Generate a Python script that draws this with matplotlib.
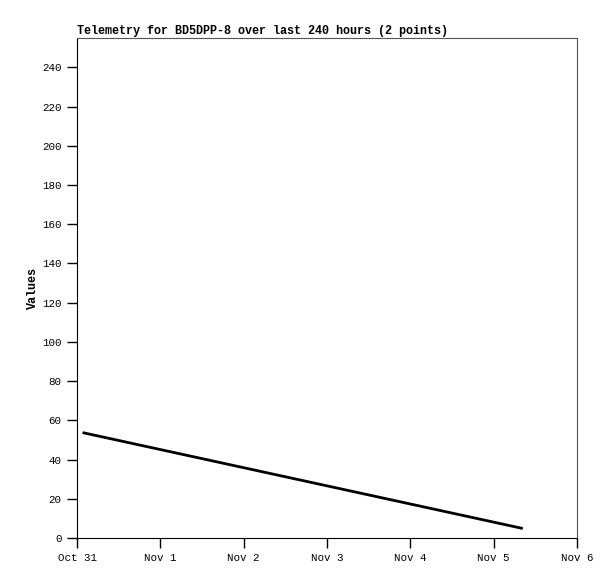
import matplotlib
matplotlib.use("Agg")
import matplotlib.pyplot as plt
import matplotlib.dates as mdates
from datetime import datetime

times = [datetime(2023, 10, 31, 2, 0), datetime(2023, 11, 5, 8, 0)]
values = [53.6, 5.0]
yticks = list(range(0, 241, 20))
title = "Telemetry for BD5DPP-8 over last 240 hours (2 points)"
ylabel = "Values"

plt.rcParams['font.family'] = ['Liberation Mono', 'DejaVu Sans Mono']

fig = plt.figure(figsize=(6.15, 5.79), dpi=100)
ax = fig.add_axes([77/615, (579-538)/579, 500/615, 500/579])
ax.plot(times, values, color='black', linewidth=2)
ax.set_xlim(datetime(2023, 10, 31), datetime(2023, 11, 6))
ax.set_ylim(0, 255)
ax.set_yticks(yticks)
ax.xaxis.set_major_locator(mdates.DayLocator())
ax.xaxis.set_major_formatter(mdates.DateFormatter('%b %-d'))
ax.tick_params(axis='both', labelsize=7.8, length=7, width=1, color='black', direction='out')
ax.tick_params(axis='x', pad=4)
ax.tick_params(axis='y', pad=4)
for s in ['left', 'bottom']:
    ax.spines[s].set_color('black')
for s in ['top', 'right']:
    ax.spines[s].set_color('#555555')
ax.set_ylabel(ylabel, fontsize=8.5, fontweight='bold', labelpad=2)
ax.set_title(title, loc='left', fontsize=8.45, fontweight='bold', pad=3)
fig.savefig("out.png", dpi=100)
